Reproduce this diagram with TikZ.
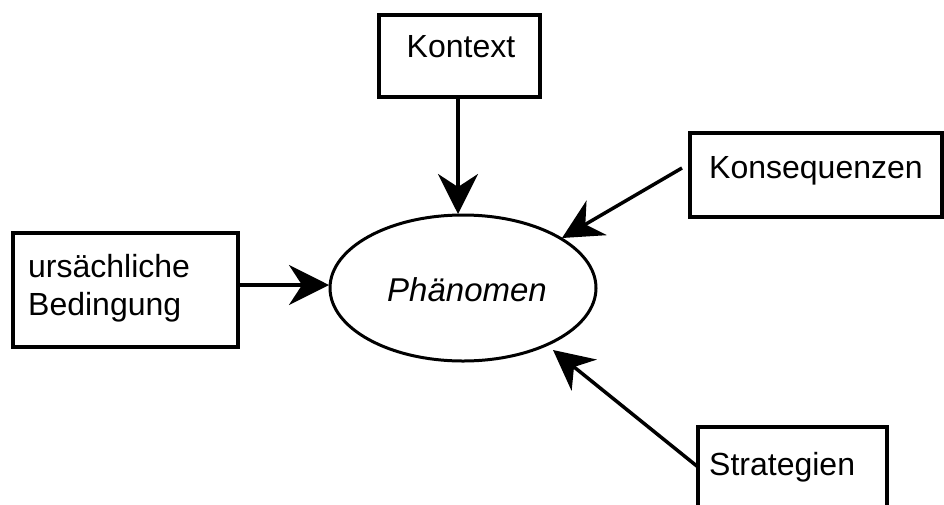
\documentclass[tikz,border=0pt]{standalone}
\usepackage{fontspec}
\setmainfont{Liberation Sans}
\usetikzlibrary{arrows.meta,shapes.geometric}
\begin{document}
\begin{tikzpicture}[x=1pt,y=-1pt,
  box/.style={draw=black,line width=3.5pt,rectangle,inner sep=0pt},
  lbl/.style={font=\fontsize{32}{38}\selectfont,inner sep=0pt,align=left},
  conn/.style={line width=3.5pt,-{Stealth[length=40pt,width=40pt,inset=13pt]}}]
\useasboundingbox (0,0) rectangle (944,504);
\clip (0,0) rectangle (944,504);
% boxes
\node[box,minimum width=161pt,minimum height=82pt] (kontext) at (459.5,56) {};
\node[lbl] (kontextT) at (461,47) {Kontext};
\node[box,minimum width=252pt,minimum height=84pt] (kons) at (816,175) {};
\node[lbl,anchor=west] (konsT) at (709,171) {Konsequenzen};
\node[box,minimum width=225pt,minimum height=114pt] (urs) at (125.5,290) {};
\node[lbl,anchor=west] (ursT) at (28,288) {urs\"achliche\\Bedingung};
\node[box,minimum width=189pt,minimum height=100pt] (strat) at (792.5,477) {};
\node[lbl,anchor=west] (stratT) at (709,467) {Strategien};
% ellipse
\node[draw=black,line width=3pt,ellipse,minimum width=266pt,minimum height=146pt,inner sep=0pt] (ph) at (463,288) {};
\node[lbl,font=\fontsize{33}{38}\selectfont\itshape] (phT) at (467,290) {Phänomen};
% connectors
\coordinate (kb) at (458,97);
\coordinate (kt) at (458,214);
\draw[conn] (kb) -- (kt);
\coordinate (ks) at (682,168);
\coordinate (ke) at (562,238);
\draw[conn] (ks) -- (ke);
\coordinate (us) at (238,285);
\coordinate (ue) at (329,285);
\draw[conn] (us) -- (ue);
\coordinate (ss) at (698,467);
\coordinate (se) at (553,350);
\draw[conn] (ss) -- (se);
\end{tikzpicture}
\end{document}
